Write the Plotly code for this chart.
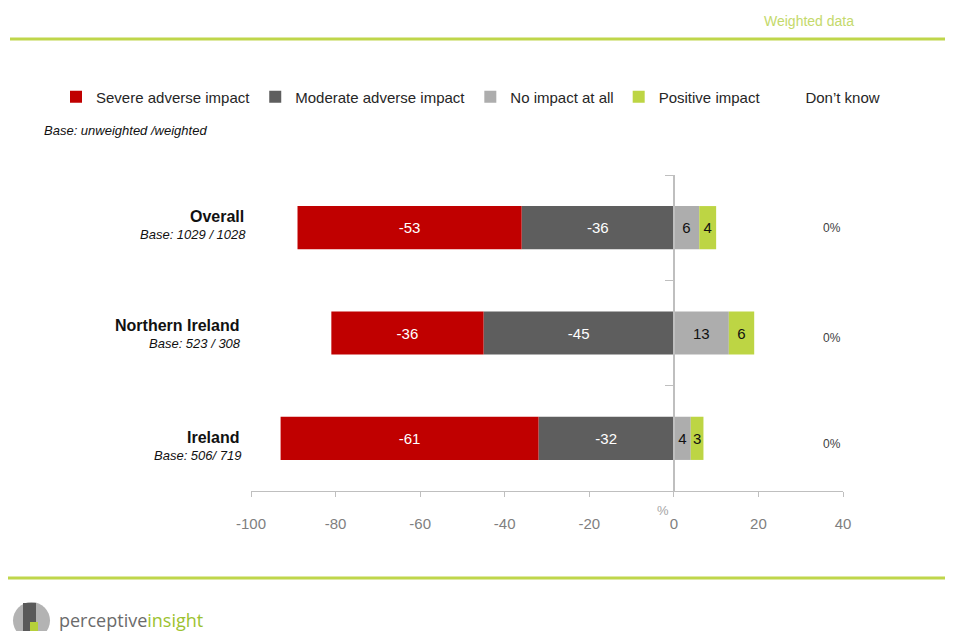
import plotly.graph_objects as go

# ---- data ----
categories = ["Overall", "Northern Ireland", "Ireland"]
bases = ["Base: 1029 / 1028", "Base: 523 / 308", "Base: 506/ 719"]
severe = [-53, -36, -61]
moderate = [-36, -45, -32]
no_impact = [6, 13, 4]
positive = [4, 6, 3]
dont_know = [0, 0, 0]
x_ticks = [-100, -80, -60, -40, -20, 0, 20, 40]

# ---- layout geometry (page pixels; the page body has an 8px margin) ----
OFF = 8
PAGE_W, PAGE_H = 953, 639
W, H = PAGE_W - 2 * OFF, PAGE_H - 2 * OFF
L, R, T, B = 251, 843, 175, 491
PW, PH = R - L, B - T


def px(xp):
    return (xp - L) / PW


def py(yp):
    return (B - yp) / PH


C_RED = "#c00000"
C_DARK = "#5e5e5e"
C_LIGHT = "#adadad"
C_GREEN = "#bdd544"
C_LINE = "#bfd64b"
FONT = "Liberation Sans, Arial, sans-serif"

fig = go.Figure()


def add_bar(name, vals, color, txtcolor, rank, show_text=True):
    fig.add_trace(go.Bar(
        y=categories, x=vals, name=name, orientation="h",
        marker=dict(color=color, line=dict(width=0)),
        text=[str(v) for v in vals] if show_text else None,
        textposition="inside", insidetextanchor="middle",
        constraintext="none",
        textfont=dict(color=txtcolor, size=15, family=FONT),
        legendrank=rank, width=0.41, hoverinfo="skip",
    ))


add_bar("Moderate adverse impact", moderate, C_DARK, "white", 2)
add_bar("Severe adverse impact", severe, C_RED, "white", 1)
add_bar("No impact at all", no_impact, C_LIGHT, "#111111", 3)
add_bar("Positive impact", positive, C_GREEN, "#111111", 4)
add_bar("Don\u2019t know", dont_know, "rgba(0,0,0,0)", "#111111", 5, show_text=False)

annotations = []
name_shift = [11, 8, 1]
base_shift = [-7, -10, -17]
name_right = [246, 241, 241]
for i, (c, b) in enumerate(zip(categories, bases)):
    annotations.append(dict(x=px(name_right[i]), xref="paper", y=c, yref="y", xanchor="right",
                            yanchor="middle", showarrow=False, yshift=name_shift[i],
                            text="<b>%s</b>" % c, font=dict(size=16, color="#111111", family=FONT)))
    annotations.append(dict(x=px(name_right[i] + 2), xref="paper", y=c, yref="y", xanchor="right",
                            yanchor="middle", showarrow=False, yshift=base_shift[i],
                            text="<i>%s</i>" % b, font=dict(size=13, color="#111111", family=FONT)))

dk_shift = [0, -5, -6]
for i, (c, v) in enumerate(zip(categories, dont_know)):
    annotations.append(dict(x=37.4, xref="x", y=c, yref="y", showarrow=False,
                            yanchor="middle", yshift=dk_shift[i], text="%d%%" % v,
                            font=dict(size=12, color="#404040", family=FONT)))

annotations += [
    dict(x=px(663), y=py(510), xref="paper", yref="paper", text="%", showarrow=False,
         xanchor="center", yanchor="middle",
         font=dict(size=13, color="#a6a6a6", family=FONT)),
    dict(x=px(856), y=py(21), xref="paper", yref="paper", text="Weighted data", showarrow=False,
         xanchor="right", yanchor="middle", font=dict(size=14, color="#c4d96b", family=FONT)),
    dict(x=px(42), y=py(131), xref="paper", yref="paper", text="<i>Base: unweighted /weighted</i>",
         xanchor="left", yanchor="middle", showarrow=False,
         font=dict(size=13, color="#111111", family=FONT)),
    dict(x=px(57), y=py(620), xref="paper", yref="paper", xanchor="left", yanchor="middle",
         showarrow=False,
         text="perceptive<span style='color:#9cc230'>insight</span>",
         font=dict(size=18, color="#6b6b6b", family="Open Sans, sans-serif")),
]

shapes = [
    dict(type="line", xref="paper", yref="paper", x0=px(10), x1=px(960), y0=py(39), y1=py(39),
         line=dict(color=C_LINE, width=3)),
    dict(type="line", xref="paper", yref="paper", x0=px(8), x1=px(960), y0=py(578), y1=py(578),
         line=dict(color=C_LINE, width=3)),
    # logo
    dict(type="circle", xref="paper", yref="paper", x0=px(13), x1=px(50), y0=py(602), y1=py(639),
         fillcolor="#b3b3b3", line=dict(width=0)),
    dict(type="rect", xref="paper", yref="paper", x0=px(23), x1=px(36), y0=py(603), y1=py(634),
         fillcolor="#5a5a5a", line=dict(width=0)),
    dict(type="rect", xref="paper", yref="paper", x0=px(30), x1=px(38), y0=py(622), y1=py(639),
         fillcolor="#b6d03a", line=dict(width=0)),
]

fig.update_layout(
    width=W, height=H,
    margin=dict(l=L - OFF, r=W - (R - OFF), t=T - OFF, b=H - (B - OFF), pad=0),
    paper_bgcolor="white", plot_bgcolor="white",
    barmode="relative",
    font=dict(family=FONT, size=14, color="#262626"),
    showlegend=True,
    legend=dict(orientation="h", x=px(56), xanchor="left", y=py(97), yanchor="middle",
                font=dict(size=15, color="#262626", family=FONT),
                traceorder="normal", itemclick=False, itemdoubleclick=False,
                bgcolor="rgba(0,0,0,0)"),
    xaxis=dict(range=[-100, 40], tickvals=x_ticks, ticktext=[str(t) for t in x_ticks],
               showgrid=False, zeroline=False, showline=True, linecolor="#bfbfbf", linewidth=1.3,
               ticks="outside", ticklen=5, tickcolor="#bfbfbf", tickwidth=1.3,
               ticklabelstandoff=14,
               tickfont=dict(size=15, color="#7f7f7f", family=FONT), fixedrange=True),
    yaxis=dict(type="category", categoryorder="array", categoryarray=categories,
               range=[2.5, -0.5], showticklabels=False, showgrid=False, zeroline=False,
               anchor="free", position=100 / 140, showline=True, linecolor="#bfbfbf", linewidth=1.5,
               ticks="outside", tickson="boundaries", ticklen=8, tickcolor="#bfbfbf", tickwidth=1.3,
               fixedrange=True),
    annotations=annotations,
    shapes=shapes,
)

fig.write_html("out.html")
